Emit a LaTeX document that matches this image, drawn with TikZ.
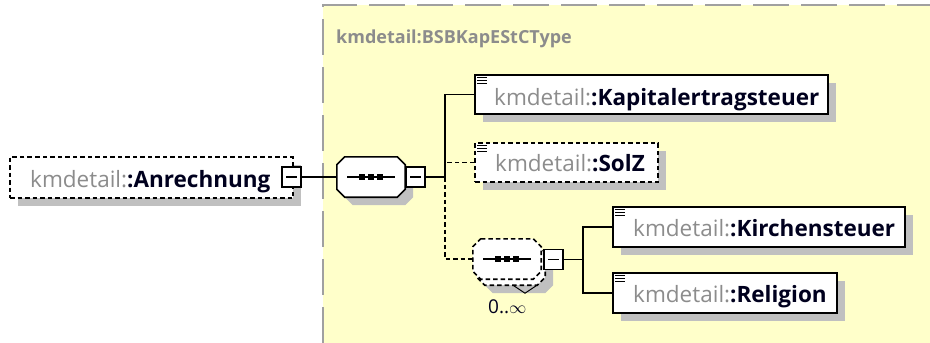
\documentclass[tikz,border=0pt]{standalone}
\usepackage{fontspec}
\setmainfont{Open Sans}
\usetikzlibrary{shadows}
\definecolor{bgyellow}{RGB}{255,255,202}
\definecolor{framegray}{RGB}{160,160,160}
\definecolor{shadowgray}{RGB}{192,192,192}
\definecolor{nsgray}{RGB}{140,140,140}
\definecolor{namecol}{RGB}{0,0,30}
\newcommand{\elname}[1]{{\color{nsgray}kmdetail:}{\bfseries\color{namecol}:#1}}
\newcommand{\docicon}[1]{\draw[line width=1.1pt] ([shift={(3,3.5)}]#1.north west) -- ++(10,0) ([shift={(3,6.5)}]#1.north west) -- ++(10,0) ([shift={(3,9.5)}]#1.north west) -- ++(10,0);}
\newcommand{\seqicon}[1]{\draw[line width=1.4pt] ([xshift=-24pt]#1.center) -- ([xshift=24pt]#1.center);
  \foreach \dx in {-9,0,9}{\fill ([shift={(\dx-3.2,-3.2)}]#1.center) rectangle ([shift={(\dx+3.2,3.2)}]#1.center);}}
\newcommand{\octa}[2]{\path[#2] ([xshift=8pt]#1.north west) -- ([xshift=-8pt]#1.north east) -- ([yshift=-8pt]#1.north east)
  -- ([yshift=8pt]#1.south east) -- ([xshift=-8pt]#1.south east) -- ([xshift=8pt]#1.south west) -- ([yshift=8pt]#1.south west)
  -- ([yshift=-8pt]#1.north west) -- cycle;}
\begin{document}
\begin{tikzpicture}[x=1pt,y=-1pt,
  txt/.style={font=\fontsize{22.5}{26}\selectfont,anchor=base west,inner sep=0pt},
  shad/.style={drop shadow={shadow xshift=8pt,shadow yshift=-8pt,fill=shadowgray,opacity=1}},
  elem/.style={draw=black,line width=1.6pt,fill=white,shad,inner sep=0pt},
  dsh/.style={dash pattern=on 4.5pt off 3pt},
  minus/.style={draw=black,line width=1.4pt,fill=white,inner sep=0pt,minimum width=19pt,minimum height=20pt,
    path picture={\draw[line width=1.4pt] ([xshift=4pt]path picture bounding box.west) -- ([xshift=-4pt]path picture bounding box.east);}},
  seqbox/.style={draw=none,inner sep=0pt,minimum width=68pt,minimum height=40pt},
  octshadow/.style={fill=shadowgray,transform canvas={xshift=8pt,yshift=-8pt}},
  octline/.style={draw=black,line width=1.6pt,fill=white},
  conn/.style={line width=1.6pt,draw=black}
]
\useasboundingbox (0,0) rectangle (930,343);
% type area
\fill[bgyellow] (323,5) rectangle (930,343);
\draw[framegray,line width=2.5pt,dash pattern=on 36pt off 12pt] (323,343) -- (323,5) -- (930,5);
\node[txt,font=\fontsize{18}{22}\selectfont\bfseries,text=nsgray] (title) at (336,43) {kmdetail:BSBKapEStCType};

% root element
\node[elem,dsh,minimum width=283pt,minimum height=41pt] (anr) at (151.5,177.5) {};
\node[txt] (anrT) at (30,187) {\elname{Anrechnung}};
\node[minus] (am) at (291.5,177) {};

% sequence
\node[seqbox] (seq) at (371,177) {};
\octa{seq}{octshadow}
\octa{seq}{octline}
\seqicon{seq}
\node[minus] (sm) at (415.5,177) {};

% children
\node[elem,minimum width=353pt,minimum height=39pt] (kap) at (651.5,94.5) {};
\docicon{kap}
\node[txt] (kapT) at (494,105) {\elname{Kapitalertragsteuer}};

\node[elem,dsh,minimum width=183pt,minimum height=39pt] (solz) at (566.5,162.5) {};
\docicon{solz}
\node[txt] (solzT) at (495,171) {\elname{SolZ}};

% inner repeated sequence
\node[seqbox] (rep) at (511,265) {};
\node[seqbox] (iseq) at (507,259) {};
\octa{rep}{octshadow}
\octa{rep}{octline,dsh}
\octa{iseq}{octline,dsh}
\seqicon{iseq}
\draw[line width=1pt] ([shift={(2,0)}]rep.south) -- ([shift={(14,8)}]rep.south) -- ([shift={(26,0)}]rep.south);
\node[minus] (im) at (553.5,259.5) {};
\node[txt,font=\fontsize{19}{22}\selectfont,text=namecol] (occ) at (488,313) {0..$\infty$};

\node[elem,minimum width=292pt,minimum height=40pt] (kir) at (759,227) {};
\docicon{kir}
\node[txt] (kirT) at (633,236) {\elname{Kirchensteuer}};

\node[elem,minimum width=224pt,minimum height=40pt] (rel) at (725,293) {};
\docicon{rel}
\node[txt] (relT) at (633,302) {\elname{Religion}};

% connectors
\coordinate (b1) at (445,177);
\coordinate (b2) at (583,259.5);
\draw[conn] (am.east) -- (seq.west);
\draw[conn] (sm.east) -- (b1);
\draw[conn] (kap.west) -| (b1);
\draw[conn,dsh] (solz.west) -- (solz.west -| b1);
\draw[conn,dsh] (b1) |- (iseq.west);
\draw[conn] (im.east) -- (b2);
\draw[conn] (kir.west) -| (b2) |- (rel.west);
\end{tikzpicture}
\end{document}
